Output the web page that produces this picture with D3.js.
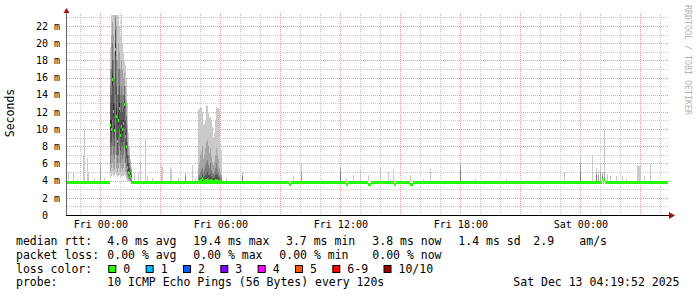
<!DOCTYPE html>
<html><head><meta charset="utf-8">
<script src="https://cdn.jsdelivr.net/npm/d3@7"></script>
<style>
body{margin:0;background:#fff}
svg{display:block}
text{font-family:"DejaVu Sans Mono",monospace;white-space:pre}
</style></head><body>
<svg id="c" width="697" height="297"></svg>
<script>
// ---------- data ----------
const startTime = "11 22:19:52", endTime = "13 04:19:52";
const yMax = 23.28;
const yTickValues = [0,2,4,6,8,10,12,14,16,18,20,22];
const yTickLabels = ["0  ","2 m","4 m","6 m","8 m","10 m","12 m","14 m","16 m","18 m","20 m","22 m"];
const xTickValues = ["12 00:00","12 06:00","12 12:00","12 18:00","13 00:00"];
const xTickLabels = ["Fri 00:00","Fri 06:00","Fri 12:00","Fri 18:00","Sat 00:00"];

const medianBase = 3.8;
const medianBaseSpans = [["11 22:19:52","12 00:28"],["12 01:34","13 04:19:52"]];

// big burst after midnight: one column per 3 minutes, 10 sorted pings each
const burstTimes = ["12 00:29","12 00:32","12 00:35","12 00:38","12 00:41","12 00:44","12 00:47","12 00:50","12 00:53","12 00:56","12 00:59","12 01:02","12 01:05","12 01:08","12 01:11","12 01:14","12 01:17","12 01:20","12 01:23","12 01:26","12 01:29","12 01:32"];
const burstMedian = [10.4,10.0,15.8,12.0,9.8,19.3,11.5,8.6,11.0,12.4,9.3,10.3,9.9,10.7,12.9,9.1,8.0,5.5,5.0,4.8,4.5,4.2];
const burstPings = [
 [4.3,5,6,8,10,11,13,15,17,19.6],
 [4.5,5.5,7,8.5,9.5,11,14,17,21,23.5],
 [4.8,6,8,11,15,16.5,18,20,22.5,23.5],
 [4.6,5.5,7,9,11.5,13,15,18,21,23.5],
 [4.5,5.2,6.5,8,9.5,10.5,13,16,19,23.5],
 [5,7,10,14,18.5,20,21.5,23,23.5,23.5],
 [4.6,5.5,7,9,11,12.5,15,18,22,23.5],
 [4.4,5,6,7,8.3,9,11,14,18,23.5],
 [4.5,5.5,7,9,10.5,12,14,17,20,23.5],
 [4.6,6,8,10,12,13,15,17,19,22],
 [4.4,5,6,7.5,9,10,12,14,17,21],
 [4.5,5.5,7,8.5,10,11,13,15,18,23.5],
 [4.4,5.2,6.5,8,9.5,10.5,12,14,17,20],
 [4.5,5.5,7,8.5,10.5,11,12.5,14,16,19],
 [4.6,6,8,10,12.5,13.2,14,15,16.5,18],
 [4.4,5,6,7.5,9,9.5,11,13,15,17.5],
 [4.2,4.8,5.5,6.5,7.8,8.5,10,11.5,13.5,16],
 [4.0,4.3,4.6,5,5.4,5.8,7,8.5,10.5,13],
 [3.9,4.1,4.4,4.7,5,5.3,6,7,8,9.5],
 [3.8,4,4.2,4.5,4.7,5,5.5,6.2,7,8],
 [3.8,3.9,4.1,4.3,4.5,4.7,5,5.5,6,6.5],
 [3.7,3.8,3.9,4.0,4.1,4.3,4.5,4.8,5.2,5.6]
];

// cluster around Fri 05:00-06:00: lowest five pings shared, upper five per column
const clusterLow = [3.7,3.75,3.8,3.85,3.9];
const clusterTimes = ["12 04:53","12 04:56","12 04:59","12 05:02","12 05:05","12 05:08","12 05:11","12 05:14","12 05:17","12 05:20","12 05:23","12 05:26","12 05:29","12 05:32","12 05:35","12 05:38","12 05:41","12 05:44","12 05:47","12 05:50","12 05:53","12 05:56","12 05:59","12 06:02"];
const clusterMedian = [3.9,3.9,4.0,4.0,4.2,4.0,3.9,4.0,4.0,4.1,4.0,3.9,4.0,4.0,3.9,3.9,3.9,4.0,4.0,4.0,3.9,3.9,3.9,3.85];
const clusterHigh = [
 [4.0,4.1,4.4,5.5,12.2],[4.0,4.2,4.6,6.0,12.3],[4.1,4.3,5.0,7.0,12.4],[4.1,4.4,5.2,7.5,12.5],
 [4.3,4.6,5.5,8.0,12.0],[4.1,4.4,5.0,6.5,10.5],[4.1,4.5,5.4,7.0,10.6],[4.2,4.7,5.8,7.8,11.0],
 [4.3,4.9,6.2,8.5,12.8],[4.4,5.0,6.4,8.7,12.7],[4.2,4.7,5.8,8.0,11.9],[4.1,4.6,5.5,7.2,11.3],
 [4.2,4.8,6.0,7.8,11.4],[4.1,4.5,5.2,6.8,11.0],[4.0,4.3,4.9,6.2,10.3],[4.0,4.3,4.8,5.8,9.1],
 [4.1,4.4,5.0,6.2,9.5],[4.2,4.6,5.5,7.0,11.0],[4.3,4.8,6.0,7.8,12.6],[4.2,4.6,5.4,7.0,12.5],
 [4.1,4.4,5.0,6.5,12.4],[4.0,4.2,4.6,5.5,12.3],[3.9,4.1,4.4,5.0,8.4],[3.9,4.0,4.2,4.6,7.5]
];

// isolated spikes: highest pings [p10, p9, p8]
const spikeLow = [3.7,3.75,3.8,3.8,3.85,3.85,3.9];
const spikeTimes = ["11 22:23","11 22:38","11 22:50","11 23:08","11 23:11","11 23:20","11 23:23","11 23:41","11 23:59","12 00:11",
 "12 01:41","12 01:53","12 01:59","12 02:14","12 02:20","12 02:35","12 03:02","12 03:05","12 03:29","12 03:32","12 03:53","12 04:14","12 04:35","12 04:44",
 "12 06:17","12 07:05","12 09:38","12 10:02","12 11:05","12 11:59","12 12:17","12 12:38","12 12:59","12 13:23","12 13:59","12 14:23","12 14:29","12 14:38",
 "12 15:29","12 16:08","12 16:29","12 17:59","12 18:44","12 20:17","12 23:11","12 23:59",
 "13 00:35","13 00:47","13 00:53","13 00:59","13 01:05","13 01:11","13 01:20","13 01:29","13 01:47","13 02:05","13 02:17","13 02:50","13 02:53","13 02:56","13 02:59","13 03:11","13 03:29"];
const spikeTops = [[5.0],[5.0],[4.2],[7.0],[10.0],[6.6],[5.0],[4.3],[6.3,5.5],[4.3],
 [4.9],[4.9],[6.2],[8.9],[4.5],[4.3],[5.8],[5.6],[5.6],[5.4],[4.3],[4.9,4.7,4.4],[5.8],[4.3],
 [4.3],[5.0,4.8,4.5],[4.5],[6.1,5.0],[4.1],[5.8,5.5,5.0],[4.2],[4.65],[5.2],[4.6],[5.6],[5.0],[4.2],[5.35],
 [4.65],[4.2],[5.4],[6.1,5.8,5.2],[4.2],[4.2],[4.95],[7.0,6.0,5.0],
 [7.0],[5.5,5.0,4.6],[5.2,4.6],[5.9,5.0],[5.0,4.8,4.5],[10.0,5.0],[4.8],[4.5],[4.5],[4.5],[4.2],[5.7],[5.7],[5.7],[5.7],[4.5],[5.9]];

// small median deviations
const medianDevTimes = ["12 09:26","12 09:29","12 12:17","12 12:20","12 13:23","12 13:26","12 13:29","12 14:41","12 14:44","12 15:29","12 15:32","12 15:35","13 01:05","13 01:11"];
const medianDevValues = [3.6,3.6,3.6,3.6,3.6,3.6,3.6,3.6,3.6,3.6,3.6,3.6,4.1,4.1];

const smokeShades = ["#cacaca","#a4a4a4","#7e7e7e","#585858","#323232"];
const medianColor = "#26ff00";

const legendRows = [
 ["median rtt:","4.0 ms avg","19.4 ms max","3.7 ms min","3.8 ms now","1.4 ms sd","2.9","am/s"],
 ["packet loss:","0.00 % avg","0.00 % max","0.00 % min","0.00 % now"],
 ["probe:","10 ICMP Echo Pings (56 Bytes) every 120s","Sat Dec 13 04:19:52 2025"]
];
const lossTitle = "loss color:";
const lossLabels = ["0","1","2","3","4","5","6-9","10/10"];
const lossColors = ["#26ff00","#00b8ff","#0059ff","#7e00ff","#ff00ff","#ff5500","#ff0000","#a10000"];

// ---------- layout ----------
const L = 67, R = 667, T = 15, B = 215;
const parse = s => { const [d,t] = s.split(" "); const p = t.split(":").map(Number); return new Date(2025, 11, +d, p[0], p[1], p[2]||0); };
const x = d3.scaleTime().domain([parse(startTime), parse(endTime)]).range([L, R]);
const y = d3.scaleLinear().domain([0, yMax]).range([B, T]);
const svg = d3.select("#c");
svg.append("rect").attr("width",697).attr("height",297).attr("fill","#fff");
svg.append("defs").append("clipPath").attr("id","clip").append("rect").attr("x",L).attr("y",T).attr("width",R-L+1).attr("height",B-T);

// grid
const grid = svg.append("g").attr("shape-rendering","crispEdges");
d3.range(1, yMax, 1).forEach(v => {
  const yy = Math.round(y(v)) + 0.5;
  grid.append("line").attr("x1",L).attr("x2",R+1).attr("y1",yy).attr("y2",yy)
    .attr("stroke", v % 2 === 0 ? "#e6a0a0" : "#c8c8c8").attr("stroke-dasharray","1,1");
});
d3.timeHour.range(x.domain()[0], x.domain()[1]).forEach(t => {
  const xx = Math.round(x(t)) + 0.5;
  grid.append("line").attr("x1",xx).attr("x2",xx).attr("y1",T-2).attr("y2",B)
    .attr("stroke", t.getHours() % 3 === 0 ? "#e6a0a0" : "#c8c8c8").attr("stroke-dasharray","1,1");
});

// columns
const cols = [];
burstTimes.forEach((t,i) => cols.push({t:parse(t), pings:burstPings[i], med:burstMedian[i]}));
clusterTimes.forEach((t,i) => cols.push({t:parse(t), pings:clusterLow.concat(clusterHigh[i]), med:clusterMedian[i]}));
spikeTimes.forEach((t,i) => {
  const tops = spikeTops[i];
  const hi = [tops[2]||3.9, tops[1]||3.9, tops[0]];
  cols.push({t:parse(t), pings:spikeLow.concat(hi), med:null});
});
const plot = svg.append("g").attr("clip-path","url(#clip)").attr("shape-rendering","crispEdges");
cols.forEach(c => {
  const xx = Math.floor(x(c.t));
  for (let k = 0; k < 5; k++) {
    const lo = c.pings[k], hi = c.pings[9-k];
    if (hi - lo < 0.02) continue;
    plot.append("rect").attr("x",xx).attr("width",1)
      .attr("y",y(hi)).attr("height",y(lo)-y(hi)).attr("fill",smokeShades[k]);
  }
});
// median
medianBaseSpans.forEach(s => {
  const x0 = Math.floor(x(parse(s[0]))), x1 = Math.floor(x(parse(s[1])));
  plot.append("rect").attr("x",x0).attr("width",x1-x0+1).attr("y",y(medianBase)-1.5).attr("height",3).attr("fill",medianColor);
});
cols.filter(c => c.med !== null).forEach(c => {
  plot.append("rect").attr("x",Math.floor(x(c.t))).attr("width",1).attr("y",y(c.med)-1.5).attr("height",3).attr("fill",medianColor);
});
medianDevTimes.forEach((t,i) => {
  const xx = Math.floor(x(parse(t)));
  plot.append("rect").attr("x",xx).attr("width",1).attr("y",y(medianBase)-1.5).attr("height",3).attr("fill","#fff");
  plot.append("rect").attr("x",xx).attr("width",1).attr("y",y(medianDevValues[i])-1.5).attr("height",3).attr("fill",medianColor);
});

// axes lines + arrows
svg.append("line").attr("x1",66.5).attr("x2",66.5).attr("y1",B).attr("y2",12).attr("stroke","#666").attr("shape-rendering","crispEdges");
svg.append("line").attr("x1",L-1).attr("x2",670).attr("y1",B+0.5).attr("y2",B+0.5).attr("stroke","#000").attr("shape-rendering","crispEdges");
svg.append("path").attr("d","M63.5,13 L69.5,13 L66.5,8 Z").attr("fill","#a01010");
svg.append("path").attr("d","M669,212 L669,219 L675,215.5 Z").attr("fill","#a01010");

// axis labels via d3 axes
const ya = d3.axisLeft(y).tickValues(yTickValues).tickFormat((d,i) => yTickLabels[i]).tickSize(0).tickPadding(0);
const yg = svg.append("g").attr("transform","translate(60,0)").call(ya);
yg.select(".domain").remove();
yg.selectAll("text").attr("font-family","DejaVu Sans Mono").attr("font-size",10).attr("fill","#000").style("white-space","pre");
const xa = d3.axisBottom(x).tickValues(xTickValues.map(parse)).tickFormat((d,i) => xTickLabels[i]).tickSize(0).tickPadding(6);
const xg = svg.append("g").attr("transform",`translate(0,${B})`).call(xa);
xg.select(".domain").remove();
xg.selectAll("text").attr("font-family","DejaVu Sans Mono").attr("font-size",10).attr("fill","#000");

// y title
svg.append("text").attr("transform","translate(14,113) rotate(-90)").attr("text-anchor","middle")
  .attr("font-size",11.5).attr("fill","#000").text("Seconds");
// watermark
svg.append("text").attr("transform","translate(685,5) rotate(90)").attr("font-size",8).attr("fill","#b4b4b4")
  .attr("textLength",110).attr("lengthAdjust","spacingAndGlyphs").text("RRDTOOL / TOBI OETIKER");

// legend
const fs = 11.5;
const rowY = [245.3, 258.8, 286.3];
const rowX = [[16,107.3,193.3,286,372.3,458.3,533.3,579.3],[16,107.3,193.3,279.3,372.3],[16,107.3,513.3]];
legendRows.forEach((row,r) => row.forEach((s,i) => {
  svg.append("text").attr("x",rowX[r][i]).attr("y",rowY[r]).attr("font-size",fs).attr("fill","#000").text(s);
}));
const lossY = 272.7;
svg.append("text").attr("x",16).attr("y",lossY).attr("font-size",fs).attr("fill","#000").text(lossTitle);
let bx = 108.3;
lossLabels.forEach((lab,i) => {
  svg.append("rect").attr("x",bx+0.5).attr("y",265.5).attr("width",7).attr("height",7).attr("fill",lossColors[i]).attr("stroke","#000").attr("stroke-width",1);
  const t = svg.append("text").attr("x",bx+15).attr("y",lossY).attr("font-size",fs).attr("fill","#000").text(lab);
  bx = bx + 15 + t.node().getComputedTextLength() + 15.4;
});
</script>
</body></html>
